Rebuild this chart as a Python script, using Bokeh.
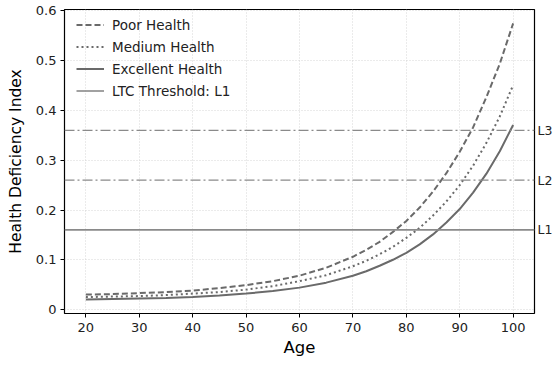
from bokeh.plotting import figure
from bokeh.models import Range1d, Legend, LegendItem, FixedTicker, LinearAxis
from bokeh.embed import file_html
from bokeh.resources import INLINE

ages = [20, 25, 30, 35, 40, 45, 50, 55, 60, 65, 70, 72.5, 75, 77.5, 80, 82.5, 85, 87.5, 90, 92.5, 95, 97.5, 100]
poor = [0.030, 0.031, 0.033, 0.035, 0.038, 0.043, 0.049, 0.057, 0.068, 0.084, 0.106, 0.120, 0.136, 0.156, 0.178, 0.205, 0.237, 0.274, 0.317, 0.366, 0.427, 0.494, 0.575]
medium = [0.025, 0.026, 0.027, 0.029, 0.032, 0.035, 0.040, 0.047, 0.057, 0.069, 0.087, 0.098, 0.111, 0.126, 0.144, 0.164, 0.189, 0.217, 0.250, 0.289, 0.335, 0.388, 0.451]
excellent = [0.020, 0.021, 0.022, 0.023, 0.025, 0.028, 0.032, 0.037, 0.044, 0.054, 0.068, 0.077, 0.088, 0.100, 0.114, 0.131, 0.151, 0.175, 0.202, 0.235, 0.273, 0.318, 0.371]

thresholds = [0.16, 0.26, 0.36]
threshold_names = ["L1", "L2", "L3"]
x_ticks = [20, 30, 40, 50, 60, 70, 80, 90, 100]
y_ticks = [0.0, 0.1, 0.2, 0.3, 0.4, 0.5, 0.6]

FONT = "DejaVu Sans"
CURVE = "#6a6a6a"
THR = "#8a8a8a"

p = figure(width=555, height=365, output_backend="svg", toolbar_location=None,
           x_range=Range1d(16, 104), y_range=Range1d(-0.008, 0.603),
           min_border_left=64, min_border_right=16, min_border_top=9, min_border_bottom=52)

p.background_fill_color = "white"
p.border_fill_color = "white"
p.outline_line_color = "black"
p.outline_line_width = 1.2

for ax in (p.xaxis[0], p.yaxis[0]):
    ax.axis_line_color = None
    ax.major_tick_line_color = "black"
    ax.major_tick_out = 4
    ax.major_tick_in = 0
    ax.minor_tick_line_color = None
    ax.major_label_text_font = FONT
    ax.major_label_text_font_size = "13px"
    ax.major_label_text_color = "#222222"
    ax.axis_label_text_font = FONT
    ax.axis_label_text_font_style = "normal"
    ax.axis_label_text_color = "black"

p.xaxis.axis_label_text_font_size = "16.5px"
p.yaxis.axis_label_text_font_size = "15.5px"
p.xaxis.ticker = FixedTicker(ticks=x_ticks)
p.yaxis.ticker = FixedTicker(ticks=y_ticks)
p.xaxis.axis_label = "Age"
p.yaxis.axis_label = "Health Deficiency Index"
p.xaxis.major_label_standoff = 5
p.yaxis.major_label_standoff = 4
p.xaxis.axis_label_standoff = 3
p.yaxis.axis_label_standoff = 8

# threshold names shown on a right-hand axis
raxis = LinearAxis(ticker=FixedTicker(ticks=thresholds),
                   major_label_overrides={t: n for t, n in zip(thresholds, threshold_names)})
raxis.axis_line_color = None
raxis.major_tick_line_color = None
raxis.major_tick_out = 0
raxis.major_tick_in = 0
raxis.minor_tick_line_color = None
raxis.major_label_standoff = 3
raxis.major_label_text_font = FONT
raxis.major_label_text_font_size = "12.5px"
raxis.major_label_text_color = "#222222"
p.add_layout(raxis, "right")

for g in (p.xgrid[0], p.ygrid[0]):
    g.grid_line_color = "#cccccc"
    g.grid_line_dash = "1 2"
    g.grid_line_width = 0.8

r_poor = p.line(ages, poor, line_color=CURVE, line_width=2, line_dash="6 3")
r_med = p.line(ages, medium, line_color=CURVE, line_width=2, line_dash="2 3")
r_exc = p.line(ages, excellent, line_color=CURVE, line_width=2)

r_l1 = p.line([16, 104], [thresholds[0], thresholds[0]], line_color=THR, line_width=1.6)
p.line([16, 104], [thresholds[1], thresholds[1]], line_color=THR, line_width=1.3, line_dash="10 3 2 3")
p.line([16, 104], [thresholds[2], thresholds[2]], line_color=THR, line_width=1.3, line_dash="10 3 2 3")

legend = Legend(items=[
    LegendItem(label="Poor Health", renderers=[r_poor]),
    LegendItem(label="Medium Health", renderers=[r_med]),
    LegendItem(label="Excellent Health", renderers=[r_exc]),
    LegendItem(label="LTC Threshold: L1", renderers=[r_l1]),
], location=(12, 214))
legend.border_line_color = None
legend.background_fill_alpha = 0.0
legend.label_text_font = FONT
legend.label_text_font_size = "13.5px"
legend.label_text_color = "#222222"
legend.glyph_width = 28
legend.glyph_height = 17
legend.spacing = 5
legend.padding = 4
legend.margin = 0
legend.label_standoff = 8
p.add_layout(legend)

open("out.html", "w").write(file_html(p, INLINE))
